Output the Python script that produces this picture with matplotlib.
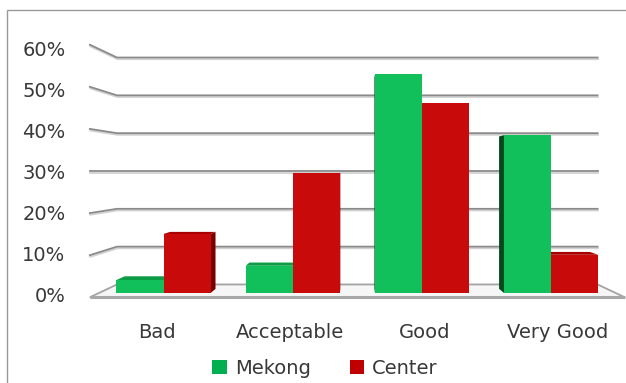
import matplotlib
matplotlib.use("Agg")
import matplotlib.pyplot as plt
from matplotlib.patches import Polygon, Rectangle, Patch
import matplotlib.patheffects as pe

# ---- data -------------------------------------------------------------
categories = ["Bad", "Acceptable", "Good", "Very Good"]
series_names = ["Mekong", "Center"]
mekong = [3.2, 6.7, 53.8, 38.8]
center = [14.5, 29.5, 46.7, 9.4]
tick_values = [0, 10, 20, 30, 40, 50, 60]
tick_labels = ["0%", "10%", "20%", "30%", "40%", "50%", "60%"]

# ---- colours ----------------------------------------------------------
green_front, green_top, green_side = "#12c05b", "#0b9c45", "#004a1e"
red_front, red_top, red_side = "#c90a0a", "#a80000", "#7a0000"
legend_colors = ["#00b050", "#c00000"]
text_color = "#383838"
grid_color = "#8a8a8a"
FONT_SIZE = 14

# ---- figure / 3-D projection layout -----------------------------------
W_PX, H_PX = 626, 383
CAT_PX, X0_PX = 129.2, 163.5      # pixels per category, first group centre
VAL_PX, EYE, EYE_PX = 4.067, 30.0, 171.0  # pixels per 1 %, eye level (%)
VX = 1.5                          # horizontal vanishing position (categories)
HALF_W = 2.0                      # half width of the plot box (categories)
S_BACK, S_FRONT, S_BAR = 0.93, 1.035, 0.966  # depth scale factors
S_LABEL = 1.012
BAR_W = 0.364

fig = plt.figure(figsize=(W_PX / 100, H_PX / 100), dpi=100)
fig.patch.set_facecolor("white")
ax = fig.add_axes([0, 0, 1, 1])
ax.set_axis_off()
ax.set_xlim(-X0_PX / CAT_PX, (W_PX - X0_PX) / CAT_PX)
ax.set_ylim(EYE - (H_PX - EYE_PX) / VAL_PX, EYE + EYE_PX / VAL_PX)


def proj(x, v, s):
    """Project a point at depth scale s towards the vanishing point."""
    return VX + (x - VX) * s, EYE + (v - EYE) * s


# floor
floor = Polygon([proj(VX - HALF_W, 0, S_FRONT), proj(VX + HALF_W, 0, S_FRONT),
                 proj(VX + HALF_W, 0, S_BACK), proj(VX - HALF_W, 0, S_BACK)],
                closed=True, facecolor="#f6f6f6", edgecolor="#a3a3a3",
                lw=1.3, zorder=1)
ax.add_patch(floor)
fx0, fy = proj(VX - HALF_W, 0, S_FRONT)
fx1, _ = proj(VX + HALF_W, 0, S_FRONT)
ax.plot([fx0, fx1], [fy, fy], color="#a8a8a8", lw=2.2, zorder=1.5,
        solid_capstyle="butt")

# gridlines on the side and back walls
shadow = [pe.SimpleLineShadow(offset=(0.3, -1.2), shadow_color="#b5b5b5",
                              alpha=0.6), pe.Normal()]
for v in tick_values[1:]:
    pts = [proj(VX - HALF_W, v, S_FRONT), proj(VX - HALF_W, v, S_BACK),
           proj(VX + HALF_W, v, S_BACK)]
    ax.plot([p[0] for p in pts], [p[1] for p in pts], color=grid_color,
            lw=1.3, zorder=2, path_effects=shadow, solid_joinstyle="round")

# value labels
for v, lab in zip(tick_values, tick_labels):
    x, _ = proj(VX - HALF_W, v, S_FRONT)
    _, y = proj(VX - HALF_W, v, S_LABEL)
    ax.annotate(lab, xy=(x, y), xytext=(-17.5, -1.8), textcoords="offset points",
                ha="right", va="center", fontsize=FONT_SIZE, color=text_color)

# category labels
for i, lab in enumerate(categories):
    x, y = proj(i, 0, S_FRONT)
    ax.annotate(lab, xy=(x, y), xytext=(0, -25.5), textcoords="offset points",
                ha="center", va="center", fontsize=FONT_SIZE, color=text_color)

# bars: front faces through ax.bar, depth faces as polygons
idx = list(range(len(categories)))
bars_m = ax.bar([i - BAR_W / 2 for i in idx], mekong, width=BAR_W,
                color=green_front, linewidth=0)
bars_c = ax.bar([i + BAR_W / 2 for i in idx], center, width=BAR_W,
                color=red_front, linewidth=0)

items = []
for i in idx:
    items.append((i - BAR_W, i, mekong[i], bars_m[i], green_top, green_side))
    items.append((i, i + BAR_W, center[i], bars_c[i], red_top, red_side))
# paint bars far from the vanishing point first
items.sort(key=lambda t: -abs((t[0] + t[1]) / 2 - VX))

for rank, (xl, xr, v, rect, ctop, cside) in enumerate(items):
    z = 10 + rank
    if xr < VX:
        side = [(xr, 0), (xr, v), proj(xr, v, S_BAR), proj(xr, 0, S_BAR)]
        ax.add_patch(Polygon(side, closed=True, facecolor=cside, lw=0,
                             zorder=z))
    elif xl > VX:
        side = [(xl, 0), (xl, v), proj(xl, v, S_BAR), proj(xl, 0, S_BAR)]
        ax.add_patch(Polygon(side, closed=True, facecolor=cside, lw=0,
                             zorder=z))
    if v < EYE:
        top = [(xl, v), (xr, v), proj(xr, v, S_BAR), proj(xl, v, S_BAR)]
        ax.add_patch(Polygon(top, closed=True, facecolor=ctop, lw=0,
                             zorder=z + 0.1))
    rect.set_zorder(z + 0.5)

# legend
handles = [Patch(facecolor=c, edgecolor="none") for c in legend_colors]
fig.legend(handles, series_names, loc="center",
           bbox_to_anchor=(325 / W_PX, 1 - 368 / H_PX), ncol=2, frameon=False,
           handlelength=0.75, handleheight=0.75, handletextpad=0.4,
           columnspacing=2.0, fontsize=FONT_SIZE, labelcolor=text_color)

# chart area border
fig.patches.append(Rectangle((7 / W_PX, -0.2), 1.5, 1.2 - 10 / H_PX,
                             transform=fig.transFigure, fill=False,
                             edgecolor="#9a9a9a", lw=1.0))

fig.savefig("out.png", dpi=100, facecolor="white")
